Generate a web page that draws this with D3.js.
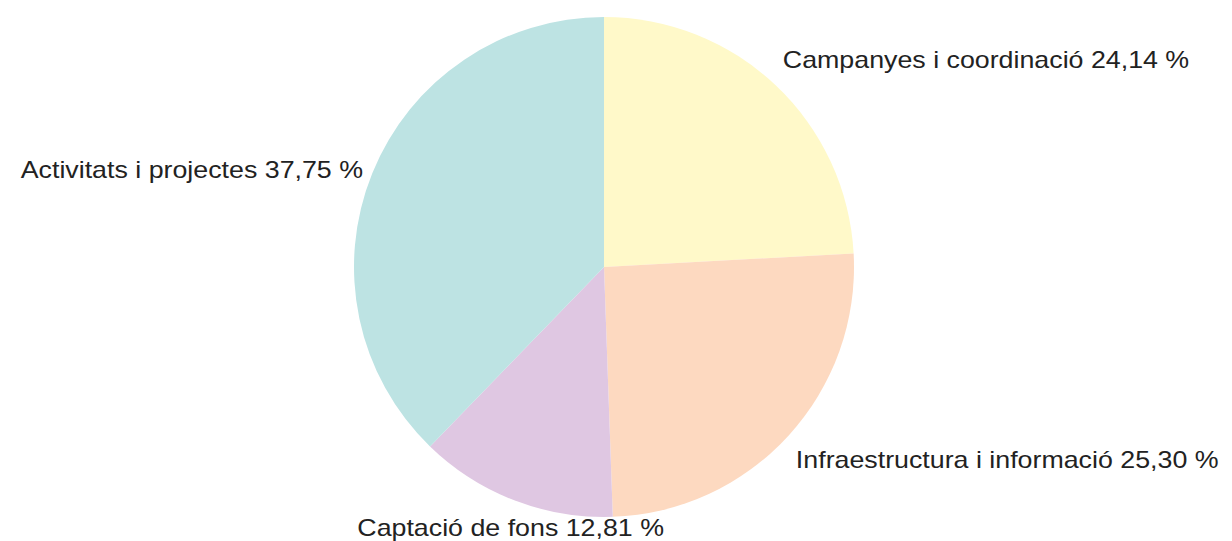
<!DOCTYPE html>
<html>
<head>
<meta charset="utf-8">
<script src="https://cdn.jsdelivr.net/npm/d3@7"></script>
<style>
  body { margin: 0; background: #fff; }
  text { font-family: "Liberation Sans", Arial, sans-serif; font-size: 23px; fill: #222; }
</style>
</head>
<body>
<svg id="chart" width="1232" height="541"></svg>
<script>
// data
var categories = ["Campanyes i coordinació", "Infraestructura i informació", "Captació de fons", "Activitats i projectes"];
var values = [24.14, 25.30, 12.81, 37.75];
var colors = ["#fff9c9", "#fdd9c0", "#dfc7e2", "#bde3e3"];

var width = 1232, height = 541,
    cx = 604, cy = 267, r = 250,
    stretch = 1.165; // labels in the source are drawn a bit wide

var svg = d3.select("#chart");
var g = svg.append("g").attr("transform", "translate(" + cx + "," + cy + ")");

var pie = d3.pie().sort(null).value(function(d) { return d; });
var arc = d3.arc().innerRadius(0).outerRadius(r);
var arcs = pie(values);

g.selectAll("path.slice")
  .data(arcs)
.enter().append("path")
  .attr("class", "slice")
  .attr("d", arc)
  .style("fill", function(d, i) { return colors[i]; });

var fmt = function(v) { return v.toFixed(2).replace(".", ",") + " %"; };

// labels outside, anchored by direction of the slice middle
g.selectAll("text.label")
  .data(arcs)
.enter().append("text")
  .attr("class", "label")
  .each(function(d, i) {
    var a = (d.startAngle + d.endAngle) / 2,
        s = Math.sin(a), c = Math.cos(a),
        x = (r + 10) * s, y = -(r + 11) * c;
    var anchor = Math.abs(s) < 0.5 ? "middle" : (s > 0 ? "start" : "end");
    var dy = c > 0.5 ? "-0.4em" : (c < -0.5 ? "1.1em" : "0.38em");
    d3.select(this)
      .attr("transform", "translate(" + x + "," + y + ") scale(" + stretch + ",1)")
      .attr("dy", dy)
      .style("text-anchor", anchor)
      .text(categories[i] + " " + fmt(values[i]));
  });
</script>
</body>
</html>
